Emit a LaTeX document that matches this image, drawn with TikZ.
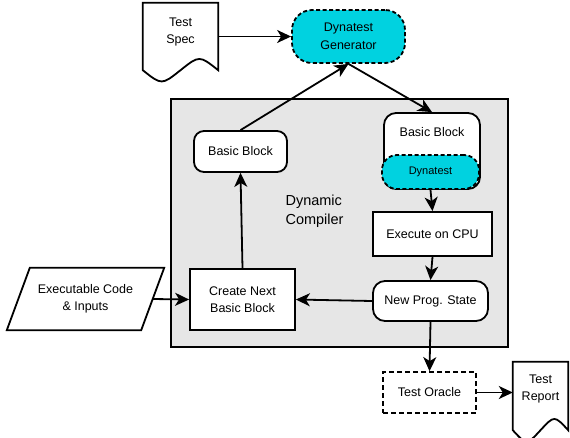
\documentclass[tikz,border=0pt]{standalone}
\usepackage{fontspec}
\setmainfont{Liberation Sans}
\usetikzlibrary{arrows.meta, calc, positioning}
\definecolor{dcCyan}{HTML}{00D2E0}
\definecolor{dcGrey}{HTML}{E6E6E6}
\tikzset{
  flow/.style    = {-{Stealth[length=14pt, width=13pt, inset=4pt]}, line width=1.8pt, black},
  outl/.style    = {draw=black, line width=1.8pt},
  lbl/.style     = {font=\fontsize{12.5}{17.5}\selectfont, align=center},
  blk/.style     = {outl, fill=white, inner sep=2pt, lbl},
  rblk/.style    = {blk, rounded corners=10pt},
  dynbox/.style  = {outl, fill=dcCyan, dash pattern=on 4pt off 2.5pt, inner sep=2pt, lbl},
  docbox/.style  = {draw=none, inner sep=2pt, lbl},
}
% document shape: straight top and sides, wavy bottom
\newcommand{\docoutline}[1]{%
  \draw[outl] (#1.south east) -- (#1.north east) -- (#1.north west) -- (#1.south west)
    .. controls ($(#1.south west)!0.5!(#1.south)+(0,-15)$) .. (#1.south)
    .. controls ($(#1.south)!0.5!(#1.south east)+(0,15)$) .. cycle;}

\begin{document}
\begin{tikzpicture}[x=1pt,y=1pt]
  \useasboundingbox (0,0) rectangle (570,-437);

  % dynamic compiler region
  \node[outl, fill=dcGrey, minimum width=337, minimum height=248, inner sep=0pt] (dyncomp) at (339.5,-223) {};
  \node[anchor=west, align=left, font=\fontsize{14.5}{19.5}\selectfont] (dclbl) at (282,-211) {Dynamic\\Compiler};

  % inputs and test spec
  \node[docbox, minimum width=75, minimum height=67] (spec) at (180.5,-36.5) {};
  \docoutline{spec}
  \node[lbl] (spectxt) at (180.5,-32) {Test\\Spec};
  \node[dynbox, rounded corners=20pt, minimum width=113, minimum height=53] (gen) at (348.5,-36.5) {Dynatest\\Generator};
  \node[docbox, minimum width=134, minimum height=62] (inp) at (85.5,-299) {Executable Code\\\& Inputs};
  \draw[outl] ($(inp.north west)+(11.5,0)$) -- ($(inp.north east)+(11.5,0)$)
    -- ($(inp.south east)+(-11.5,0)$) -- ($(inp.south west)+(-11.5,0)$) -- cycle;

  % blocks inside the compiler
  \node[rblk, minimum width=93, minimum height=41] (bbl) at (240.5,-151.5) {Basic Block};
  \node[rblk, rounded corners=12pt, minimum width=96, minimum height=76] (bbr) at (432,-151) {};
  \node[lbl] (bbrtxt) at (432,-132) {Basic Block};
  \node[dynbox, rounded corners=15pt, minimum width=97, minimum height=34,
        font=\fontsize{11}{13}\selectfont] (dyn) at (430.5,-172) {Dynatest};
  \node[blk, minimum width=119, minimum height=44] (exe) at (432.5,-234) {Execute on CPU};
  \node[rblk, rounded corners=12pt, minimum width=115, minimum height=40] (nps) at (430.5,-301) {New Prog. State};
  \node[blk, minimum width=105, minimum height=61] (cnb) at (242.5,-299.5) {Create Next\\Basic Block};

  % outputs
  \node[blk, dash pattern=on 5pt off 3pt, minimum width=93, minimum height=41] (orc) at (429.5,-392.5) {Test Oracle};
  \node[docbox, minimum width=55, minimum height=68] (rep) at (540.5,-396) {};
  \docoutline{rep}
  \node[lbl] (reptxt) at (540.5,-389) {Test\\Report};

  % connectors
  \draw[flow] (spec.east) -- (gen.west);
  \draw[flow] (bbl.north) -- (gen.south);
  \draw[flow] (gen.south) -- (bbr.north);
  \draw[flow] (dyn.south) -- (exe.north);
  \draw[flow] (exe.south) -- (nps.north);
  \draw[flow] (nps.west) -- (cnb.east);
  \draw[flow] (cnb.north) -- (bbl.south);
  \draw[flow] (inp.east) -- (cnb.west);
  \draw[flow] (nps.south) -- (orc.north);
  \draw[flow] (orc.east) -- (orc.east -| rep.west);
\end{tikzpicture}
\end{document}
